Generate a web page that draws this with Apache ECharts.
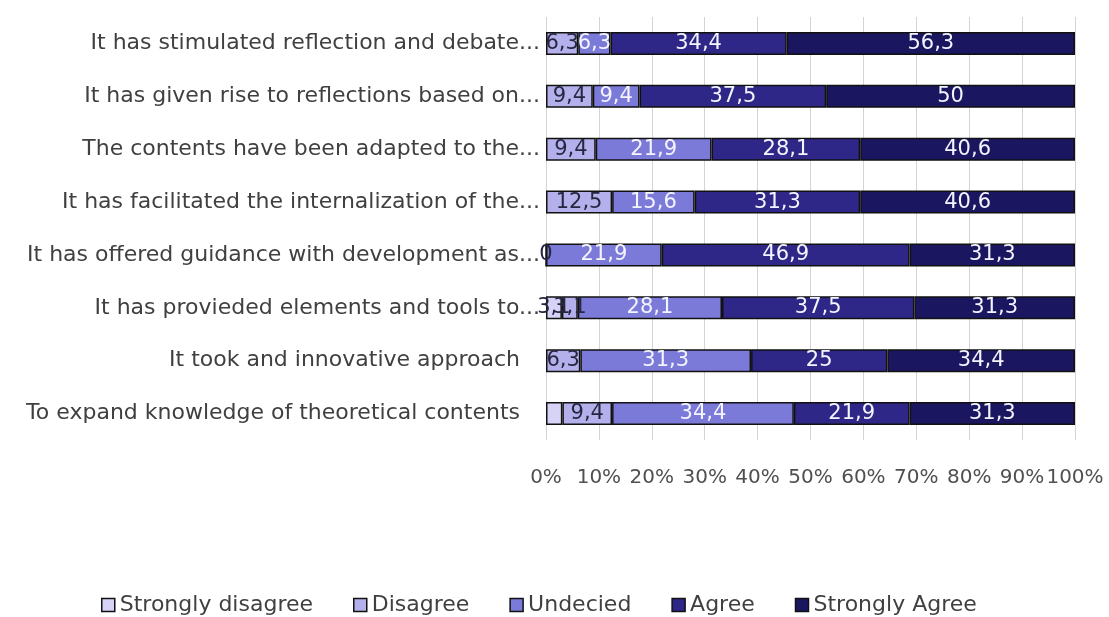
<!DOCTYPE html>
<html>
<head>
<meta charset="utf-8">
<script src="https://cdn.jsdelivr.net/npm/echarts@6/dist/echarts.min.js"></script>
<style>
  html, body { margin: 0; padding: 0; background: #ffffff; }
  #chart { width: 1109px; height: 617px; }
</style>
</head>
<body>
<div id="chart"></div>
<script>
// Survey statements (top to bottom)
const categories = [
  'It has stimulated reflection and debate...',
  'It has given rise to reflections based on...',
  'The contents have been adapted to the...',
  'It has facilitated the internalization of the...',
  'It has offered guidance with development as...',
  'It has provieded elements and tools to...',
  'It took and innovative approach',
  'To expand knowledge of theoretical contents'
];

const seriesNames = ['Strongly disagree', 'Disagree', 'Undecied', 'Agree', 'Strongly Agree'];

// Percentages per answer (null = no answer recorded)
const stronglyDisagree = [null, null, null, null, null, 3.1, null, 3.1];
const disagree         = [6.3, 9.4, 9.4, 12.5, 0, 3.1, 6.3, 9.4];
const undecided        = [6.3, 9.4, 21.9, 15.6, 21.9, 28.1, 31.3, 34.4];
const agree            = [34.4, 37.5, 28.1, 31.3, 46.9, 37.5, 25, 21.9];
const stronglyAgree    = [56.3, 50, 40.6, 40.6, 31.3, 31.3, 34.4, 31.3];

// Percent axis ticks
const xTicks = [0, 10, 20, 30, 40, 50, 60, 70, 80, 90, 100];

const seriesValues = [stronglyDisagree, disagree, undecided, agree, stronglyAgree];
const colors = ['#d6d3f6', '#b4b0ec', '#7c7ad8', '#2e2787', '#1b1660'];
const labelColors = ['#262640', '#262640', '#f4f4ff', '#f4f4ff', '#f4f4ff'];
// segments drawn without a value label: [seriesIndex, rowIndex]
const unlabeled = [[0, 7]];

// Each row is shown as a 100% stacked bar
const rowTotals = categories.map((_, r) =>
  seriesValues.reduce((s, arr) => s + (arr[r] == null ? 0 : arr[r]), 0));

const fmt = v => String(v).replace('.', ',');
const FONT = '"DejaVu Sans", "Noto Sans", sans-serif';

const series = seriesNames.map((name, si) => ({
  name: name,
  type: 'bar',
  stack: 'total',
  barWidth: 23,
  itemStyle: { color: colors[si], borderColor: '#111111', borderWidth: 1.5 },
  label: {
    show: true,
    position: 'inside',
    color: labelColors[si],
    fontFamily: FONT,
    fontSize: 21,
    formatter: p => {
      const raw = seriesValues[si][p.dataIndex];
      if (raw == null) return '';
      if (unlabeled.some(u => u[0] === si && u[1] === p.dataIndex)) return '';
      return fmt(raw);
    }
  },
  emphasis: { disabled: true },
  data: seriesValues[si].map((v, r) => v == null ? '-' : v / rowTotals[r] * 100)
}));

const chart = echarts.init(document.getElementById('chart'), null, { renderer: 'canvas' });
chart.setOption({
  animation: false,
  backgroundColor: '#ffffff',
  grid: { left: 546, right: 34, top: 17, bottom: 177, containLabel: false },
  xAxis: {
    type: 'value',
    min: xTicks[0],
    max: xTicks[xTicks.length - 1],
    interval: xTicks[1] - xTicks[0],
    axisLine: { show: false },
    axisTick: { show: false },
    splitLine: { show: true, lineStyle: { color: '#d4d4d4', width: 1 } },
    axisLabel: {
      margin: 28,
      color: '#505050',
      fontFamily: FONT,
      fontSize: 20,
      formatter: '{value}%'
    }
  },
  yAxis: {
    type: 'category',
    inverse: true,
    data: categories,
    axisLine: { show: false },
    axisTick: { show: false },
    axisLabel: {
      margin: 6,
      color: '#404040',
      fontFamily: FONT,
      fontSize: 22,
      formatter: v => v.endsWith('...') ? v : '{full|' + v + '}',
      rich: {
        full: { color: '#404040', fontFamily: FONT, fontSize: 22, padding: [0, 20, 0, 0] }
      }
    }
  },
  legend: {
    data: seriesNames,
    left: 96,
    top: 589,
    icon: 'rect',
    itemWidth: 13,
    itemHeight: 13,
    itemGap: 40,
    itemStyle: { borderColor: '#111111', borderWidth: 1.5 },
    textStyle: { color: '#404040', fontFamily: FONT, fontSize: 22 }
  },
  series: series
});
</script>
</body>
</html>
